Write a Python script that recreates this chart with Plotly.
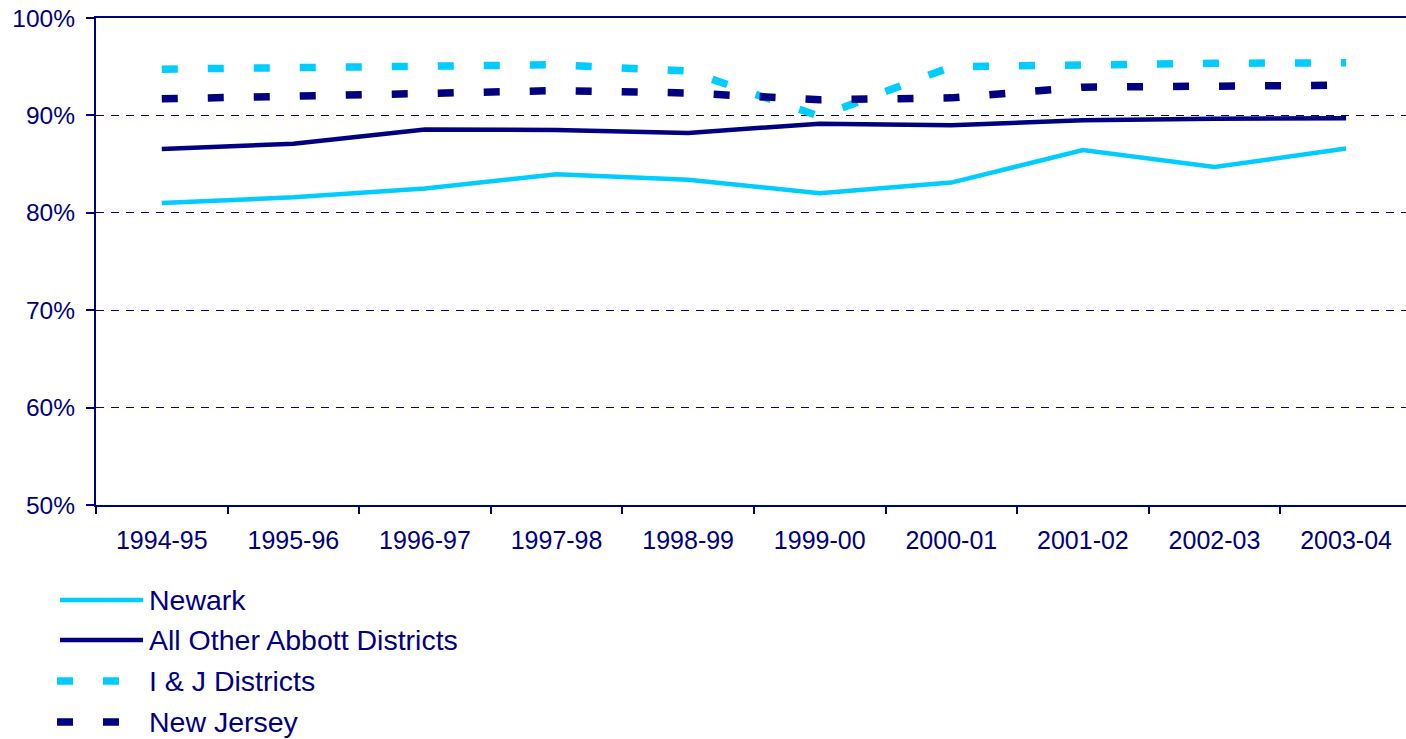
import plotly.graph_objects as go

categories = ["1994-95", "1995-96", "1996-97", "1997-98", "1998-99",
              "1999-00", "2000-01", "2001-02", "2002-03", "2003-04"]
newark = [81.0, 81.6, 82.5, 83.95, 83.4, 82.0, 83.1, 86.45, 84.7, 86.6]
abbott = [86.55, 87.1, 88.55, 88.5, 88.2, 89.15, 89.0, 89.5, 89.65, 89.7]
ij = [94.75, 94.9, 95.0, 95.2, 94.55, 89.9, 95.0, 95.25, 95.35, 95.4]
nj = [91.7, 91.9, 92.25, 92.55, 92.3, 91.6, 91.8, 92.9, 92.95, 93.1]
y_ticks = [50, 60, 70, 80, 90, 100]
y_tick_text = ["50%", "60%", "70%", "80%", "90%", "100%"]

series_names = ["Newark", "All Other Abbott Districts", "I & J Districts", "New Jersey"]
series_values = [newark, abbott, ij, nj]

NAVY = "#000080"
CYAN = "#00CCFF"
FONT = "Arial, Liberation Sans, sans-serif"

styles = [
    dict(color=CYAN, width=4.5, dash="solid"),
    dict(color=NAVY, width=4.5, dash="solid"),
    dict(color=CYAN, width=7.5, dash="16px,30px"),
    dict(color=NAVY, width=7.5, dash="16px,30px"),
]

W, H = 1406, 739
L, T = 96, 18
PB = 505
PH = PB - T
PW = W - L

xs = list(range(len(categories)))
fig = go.Figure()
for name, vals, st in zip(series_names, series_values, styles):
    fig.add_trace(go.Scatter(x=xs, y=vals, mode="lines", name=name,
                             line=st, showlegend=False, hoverinfo="x+y"))

fig.update_layout(
    width=W, height=H,
    margin=dict(l=L, r=0, t=T, b=H - PB, pad=0, autoexpand=False),
    paper_bgcolor="white", plot_bgcolor="white",
    font=dict(family=FONT, color=NAVY, size=25),
    xaxis=dict(
        range=[-0.5, (W - 161) / 131.67],
        tickmode="array", tickvals=xs, ticktext=categories,
        ticks="", showgrid=False, zeroline=False, automargin=False,
        showline=True, linecolor=NAVY, linewidth=2.2, mirror=True,
        tickfont=dict(size=25, color=NAVY, family=FONT),
        ticklabelstandoff=12, ticklabeloverflow="allow",
        minor=dict(tick0=0.5, dtick=1, ticks="outside", ticklen=7,
                   tickwidth=1.5, tickcolor=NAVY, showgrid=False),
    ),
    yaxis=dict(
        range=[50, 100], automargin=False,
        tickmode="array", tickvals=y_ticks, ticktext=y_tick_text,
        ticks="outside", ticklen=8, tickwidth=1.5, tickcolor=NAVY,
        showline=True, linecolor=NAVY, linewidth=2.2,
        showgrid=True, gridcolor=NAVY, gridwidth=1.2, griddash="8px,7px",
        zeroline=False,
        tickfont=dict(size=24.5, color=NAVY, family=FONT),
        ticklabelstandoff=6, ticklabeloverflow="allow",
    ),
)

# Manual legend (long line samples as in the original); positions in screen px
legend_y = [600, 640, 681, 722]

def px_x(p):
    return (p - L) / PW

def px_y(p):
    return (PB - p) / PH

for name, st, ly in zip(series_names, styles, legend_y):
    if st["dash"] == "solid":
        x0, x1 = 60, 143
    else:
        x0, x1 = 57, 135
    fig.add_shape(type="line", xref="paper", yref="paper",
                  x0=px_x(x0), x1=px_x(x1), y0=px_y(ly), y1=px_y(ly),
                  line=dict(color=st["color"], width=st["width"], dash=st["dash"]))
    fig.add_annotation(xref="paper", yref="paper", x=px_x(147), y=px_y(ly),
                       text=name, showarrow=False, xanchor="left", yanchor="middle",
                       font=dict(size=28.5, color=NAVY, family=FONT))

# remove the browser's default 8px body margin so the figure fills the window
fig.write_html("out.html",
               config={"displayModeBar": False},
               post_script="document.body.style.margin='0';document.body.style.overflow='hidden';")
